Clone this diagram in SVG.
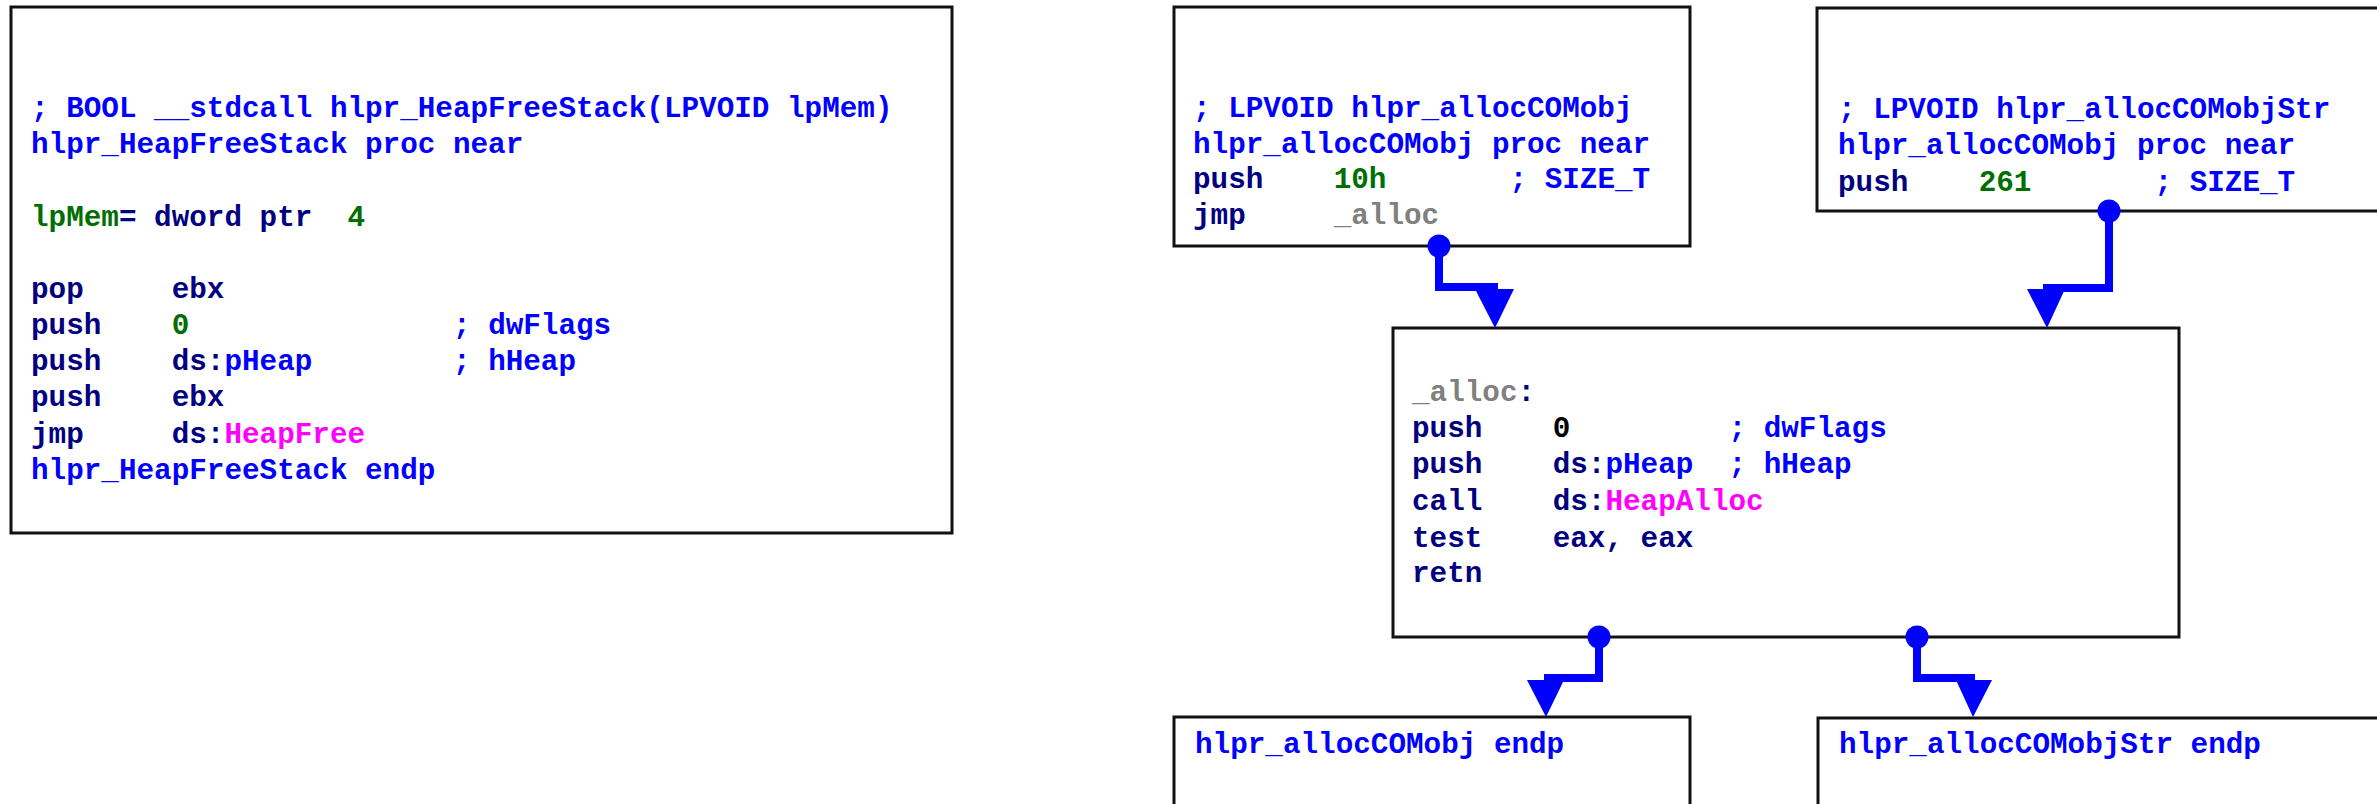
<svg xmlns="http://www.w3.org/2000/svg" width="2377" height="804" viewBox="0 0 2377 804">
<style>
text{font-family:"Liberation Mono","Courier New",monospace;font-weight:bold;font-size:29.3px;white-space:pre;fill:#000080}
.box{fill:#fff;stroke:#111;stroke-width:3}
.b{fill:#0000ff}
.g{fill:#006f00}
.m{fill:#ff00ff}
.gr{fill:#808080}
.k{fill:#000}
.edge{fill:none;stroke:#0000ff;stroke-width:8;stroke-linejoin:miter}
.head{fill:#0000ff}
.dot{fill:#0000ff}
</style>
<rect width="2377" height="804" fill="#fff"/>
<g id="node-heapfreestack">
<rect class="box" x="11" y="7" width="941" height="526"/>
<text x="31" y="117" xml:space="preserve" class="b">; BOOL __stdcall hlpr_HeapFreeStack(LPVOID lpMem)</text>
<text x="31" y="153" xml:space="preserve" class="b">hlpr_HeapFreeStack proc near</text>
<text x="31" y="226" xml:space="preserve"><tspan class="g">lpMem</tspan>= dword ptr  <tspan class="g">4</tspan></text>
<text x="31" y="298" xml:space="preserve">pop     ebx</text>
<text x="31" y="334" xml:space="preserve">push    <tspan class="g">0</tspan>               <tspan class="b">; dwFlags</tspan></text>
<text x="31" y="370" xml:space="preserve">push    ds:<tspan class="b">pHeap</tspan>        <tspan class="b">; hHeap</tspan></text>
<text x="31" y="406" xml:space="preserve">push    ebx</text>
<text x="31" y="443" xml:space="preserve">jmp     ds:<tspan class="m">HeapFree</tspan></text>
<text x="31" y="479" xml:space="preserve" class="b">hlpr_HeapFreeStack endp</text>
</g>
<g id="node-alloccomobj">
<rect class="box" x="1174" y="7" width="516" height="239"/>
<text x="1193" y="117" xml:space="preserve" class="b">; LPVOID hlpr_allocCOMobj</text>
<text x="1193" y="153" xml:space="preserve" class="b">hlpr_allocCOMobj proc near</text>
<text x="1193" y="188" xml:space="preserve">push    <tspan class="g">10h</tspan>       <tspan class="b">; SIZE_T</tspan></text>
<text x="1193" y="224" xml:space="preserve">jmp     <tspan class="gr">_alloc</tspan></text>
</g>
<g id="node-alloccomobjstr">
<rect class="box" x="1817" y="8" width="580" height="203"/>
<text x="1838" y="118" xml:space="preserve" class="b">; LPVOID hlpr_allocCOMobjStr</text>
<text x="1838" y="154" xml:space="preserve" class="b">hlpr_allocCOMobj proc near</text>
<text x="1838" y="191" xml:space="preserve">push    <tspan class="g">261</tspan>       <tspan class="b">; SIZE_T</tspan></text>
</g>
<g id="node-alloc">
<rect class="box" x="1393" y="328" width="786" height="309"/>
<text x="1412" y="401" xml:space="preserve"><tspan class="gr">_alloc</tspan>:</text>
<text x="1412" y="437" xml:space="preserve">push    <tspan class="k">0</tspan>         <tspan class="b">; dwFlags</tspan></text>
<text x="1412" y="473" xml:space="preserve">push    ds:<tspan class="b">pHeap</tspan>  <tspan class="b">; hHeap</tspan></text>
<text x="1412" y="510" xml:space="preserve">call    ds:<tspan class="m">HeapAlloc</tspan></text>
<text x="1412" y="547" xml:space="preserve">test    eax, eax</text>
<text x="1412" y="582" xml:space="preserve">retn</text>
</g>
<g id="node-endp1">
<rect class="box" x="1174" y="717" width="516" height="120"/>
<text x="1195" y="753" xml:space="preserve" class="b">hlpr_allocCOMobj endp</text>
</g>
<g id="node-endp2">
<rect class="box" x="1818" y="718" width="580" height="120"/>
<text x="1839" y="753" xml:space="preserve" class="b">hlpr_allocCOMobjStr endp</text>
</g>
<g id="connectors">
<circle class="dot" cx="1439" cy="246" r="11.5"/>
<polyline class="edge" points="1439,246 1439,287 1498,287"/>
<polygon class="head" points="1475,289 1514,289 1495,328"/>
<circle class="dot" cx="2109" cy="211" r="11.5"/>
<polyline class="edge" points="2109,211 2109,288 2043,288"/>
<polygon class="head" points="2027,289 2065,289 2047,328"/>
<circle class="dot" cx="1599" cy="637" r="11.5"/>
<polyline class="edge" points="1599,637 1599,678 1544,678"/>
<polygon class="head" points="1527,680 1564,680 1546,717"/>
<circle class="dot" cx="1917" cy="637" r="11.5"/>
<polyline class="edge" points="1917,637 1917,678 1975,678"/>
<polygon class="head" points="1956,680 1992,680 1973,717"/>
</g>
</svg>
